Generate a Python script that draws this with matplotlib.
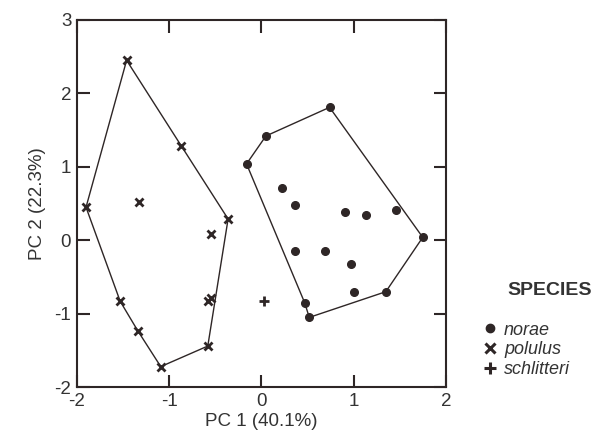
import numpy as np
import matplotlib.pyplot as plt
from matplotlib.lines import Line2D

plt.rcParams['font.family'] = ['Liberation Sans', 'DejaVu Sans']
plt.rcParams['axes.unicode_minus'] = False

# PCA scores
norae_x = [-0.16, 0.05, 0.74, 0.22, 0.36, 0.91, 1.14, 1.46, 1.75, 0.37, 0.69, 0.97, 1.01, 1.35, 0.47, 0.52]
norae_y = [1.04, 1.42, 1.81, 0.71, 0.48, 0.39, 0.34, 0.41, 0.04, -0.14, -0.14, -0.32, -0.71, -0.70, -0.85, -1.05]
norae_hull = [0, 1, 2, 8, 13, 15, 14, 0]

polulus_x = [-1.46, -0.87, -0.36, -1.33, -1.90, -0.54, -1.53, -1.34, -1.09, -0.58, -0.58, -0.55]
polulus_y = [2.45, 1.29, 0.29, 0.52, 0.45, 0.08, -0.83, -1.23, -1.72, -1.44, -0.82, -0.79]
polulus_hull = [0, 1, 2, 9, 8, 7, 6, 4, 0]

schlitteri_x = [0.03]
schlitteri_y = [-0.83]

ink = '#2e2626'
txt = '#333333'

fig = plt.figure(figsize=(6, 4.43), dpi=100)
ax = fig.add_axes([0.128, 0.126, 0.615, 0.829])

nx, ny = np.array(norae_x), np.array(norae_y)
px, py = np.array(polulus_x), np.array(polulus_y)
ax.plot(nx[norae_hull], ny[norae_hull], color=ink, lw=1.0, zorder=1)
ax.plot(px[polulus_hull], py[polulus_hull], color=ink, lw=1.0, zorder=1)

ax.plot(nx, ny, 'o', color=ink, ms=5.5, ls='none', zorder=2)
ax.plot(px, py, 'x', color=ink, ms=6, mew=2, ls='none', zorder=2)
ax.plot(schlitteri_x, schlitteri_y, '+', color=ink, ms=7, mew=2, ls='none', zorder=2)

ax.set_xlim(-2, 2)
ax.set_ylim(-2, 3)
ax.set_xticks([-2, -1, 0, 1, 2])
ax.set_yticks([-2, -1, 0, 1, 2, 3])
ax.tick_params(direction='in', length=9, width=1.5, colors=ink, labelsize=13.5,
               top=True, right=True, pad=4)
ax.tick_params(labelcolor=txt)
for s in ax.spines.values():
    s.set_linewidth(1.5)
    s.set_color(ink)

ax.set_xlabel('PC 1 (40.1%)', fontsize=13.5, color=txt, labelpad=2)
ax.set_ylabel('PC 2 (22.3%)', fontsize=13.5, color=txt, labelpad=6)

handles = [
    Line2D([], [], marker='o', color=ink, ls='none', ms=6),
    Line2D([], [], marker='x', color=ink, ls='none', ms=7, mew=2.2),
    Line2D([], [], marker='+', color=ink, ls='none', ms=9, mew=2.2),
]
leg = fig.legend(handles, ['norae', 'polulus', 'schlitteri'],
                 loc='upper left', bbox_to_anchor=(0.795, 0.29),
                 frameon=False, handlelength=0.6, handletextpad=0.5,
                 labelspacing=0.15, borderaxespad=0,
                 prop={'style': 'italic', 'size': 13})
for t in leg.get_texts():
    t.set_color(txt)
fig.text(0.846, 0.335, 'SPECIES', fontsize=14, fontweight='bold', color=txt)

fig.savefig('out.png', dpi=100, facecolor='white')
